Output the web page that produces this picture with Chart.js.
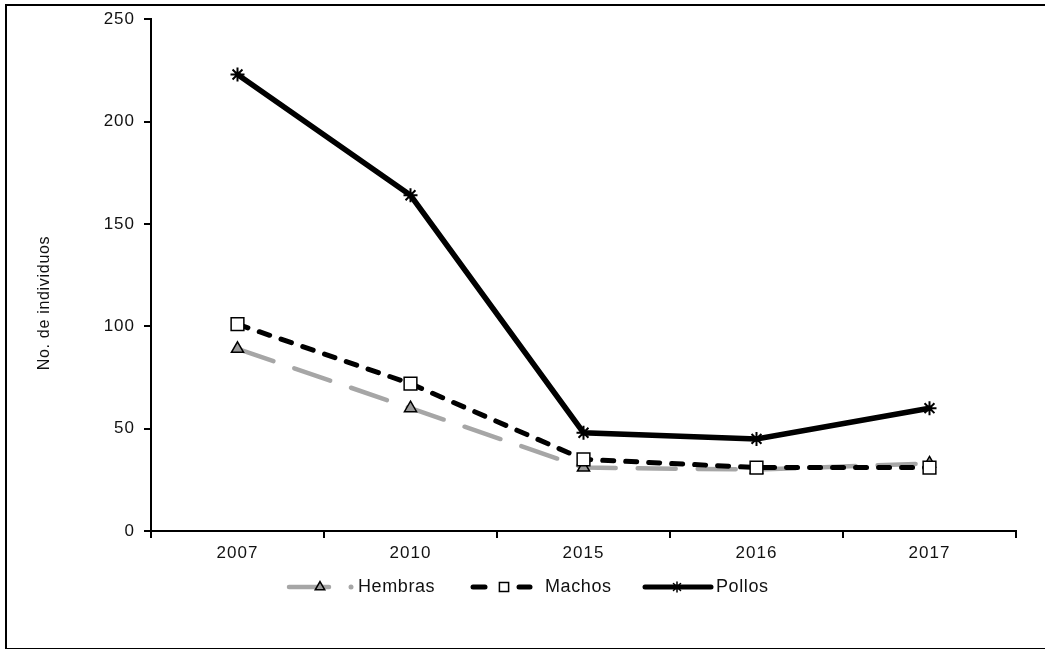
<!DOCTYPE html>
<html>
<head>
<meta charset="utf-8">
<script src="https://cdn.jsdelivr.net/npm/chart.js@4.4.1/dist/chart.umd.min.js"></script>
<style>
  html, body { margin: 0; padding: 0; background: #fff; }
  #wrap { position: relative; width: 1045px; height: 649px; overflow: hidden; }
  #frame { position: absolute; left: 5px; top: 4px; width: 1050px; height: 642px;
           border-left: 2px solid #000; border-top: 2px solid #000; border-bottom: 2px solid #000;
           pointer-events: none; }
  canvas { position: absolute; left: 0; top: 0; }
</style>
</head>
<body>
<div id="wrap">
  <canvas id="c" width="1045" height="649"></canvas>
  <div id="frame"></div>
</div>
<script>
const years = ['2007', '2010', '2015', '2016', '2017'];
const hembras = [89, 60, 31, 30, 33];
const machos = [101, 72, 35, 31, 31];
const pollos = [223, 164, 48, 45, 60];
const yTicks = [0, 50, 100, 150, 200, 250];
const seriesNames = ['Hembras', 'Machos', 'Pollos'];
const yTitle = 'No. de individuos';

const FONT = "'Liberation Sans', Arial, sans-serif";
const GRAY = '#a6a6a6';

function setSpacing(chart) { chart.ctx.letterSpacing = '1px'; }

const spacingPlugin = {
  id: 'spacing',
  beforeUpdate: setSpacing,
  beforeLayout: setSpacing,
  beforeDraw: setSpacing,
  beforeDatasetsDraw: setSpacing
};

const extrasPlugin = {
  id: 'extras',
  afterDraw(chart) {
    const ctx = chart.ctx;
    const H = Chart.helpers;
    ctx.save();
    // y-axis title
    ctx.letterSpacing = '0.7px';
    ctx.font = '16px ' + FONT;
    ctx.fillStyle = '#111';
    ctx.translate(45, 303);
    ctx.rotate(-Math.PI / 2);
    ctx.textAlign = 'center';
    ctx.textBaseline = 'middle';
    ctx.fillText(yTitle, 0, 0);
    ctx.restore();

    // legend
    const y = 587;
    ctx.save();
    ctx.lineCap = 'round';
    ctx.lineWidth = 4.5;
    // Hembras
    ctx.strokeStyle = GRAY;
    ctx.beginPath(); ctx.moveTo(289, y); ctx.lineTo(329, y); ctx.stroke();
    ctx.fillStyle = GRAY;
    ctx.beginPath(); ctx.arc(351, y, 2.5, 0, Math.PI * 2); ctx.fill();
    ctx.lineWidth = 1.5; ctx.strokeStyle = '#000'; ctx.fillStyle = '#999';
    H.drawPoint(ctx, { pointStyle: 'triangle', radius: 5.5, borderWidth: 1.5, rotation: 0 }, 320, y);
    // Machos
    ctx.lineWidth = 5; ctx.strokeStyle = '#000';
    ctx.beginPath(); ctx.moveTo(473, y); ctx.lineTo(485, y); ctx.stroke();
    ctx.beginPath(); ctx.moveTo(519, y); ctx.lineTo(530, y); ctx.stroke();
    ctx.lineWidth = 1.5; ctx.fillStyle = '#fff';
    H.drawPoint(ctx, { pointStyle: 'rect', radius: 6.5, borderWidth: 1.5, rotation: 0 }, 504, y);
    // Pollos
    ctx.lineWidth = 5;
    ctx.beginPath(); ctx.moveTo(645, y); ctx.lineTo(711, y); ctx.stroke();
    ctx.lineWidth = 1.5;
    H.drawPoint(ctx, { pointStyle: 'star', radius: 5, borderWidth: 1.5, rotation: 0 }, 677, y);
    // texts
    ctx.letterSpacing = '0.6px';
    ctx.font = '18px ' + FONT;
    ctx.fillStyle = '#111';
    ctx.textAlign = 'left';
    ctx.textBaseline = 'middle';
    ctx.fillText(seriesNames[0], 358, y);
    ctx.fillText(seriesNames[1], 545, y);
    ctx.fillText(seriesNames[2], 716, y);
    ctx.restore();
  }
};

new Chart(document.getElementById('c'), {
  type: 'line',
  data: {
    labels: years,
    datasets: [
      {
        label: seriesNames[0], data: hembras, order: 3,
        borderColor: GRAY, borderWidth: 4.5, borderDash: [38, 22], borderCapStyle: 'round',
        pointStyle: 'triangle', pointRadius: 7, pointBorderWidth: 1.5,
        pointBorderColor: '#000', pointBackgroundColor: '#999', tension: 0
      },
      {
        label: seriesNames[1], data: machos, order: 2,
        borderColor: '#000', borderWidth: 5, borderDash: [11, 12], borderCapStyle: 'round',
        pointStyle: 'rect', pointRadius: 9, pointBorderWidth: 1.5,
        pointBorderColor: '#000', pointBackgroundColor: '#fff', tension: 0
      },
      {
        label: seriesNames[2], data: pollos, order: 1,
        borderColor: '#000', borderWidth: 5.5, borderCapStyle: 'round',
        pointStyle: 'star', pointRadius: 7, pointBorderWidth: 2,
        pointBorderColor: '#000', pointBackgroundColor: '#000', tension: 0
      }
    ]
  },
  options: {
    responsive: false,
    animation: false,
    devicePixelRatio: 1,
    layout: { padding: { left: 0, top: 16, right: 29, bottom: 68 } },
    plugins: { legend: { display: false }, tooltip: { enabled: false } },
    scales: {
      x: {
        offset: true,
        grid: { offset: true, drawOnChartArea: false, drawTicks: true, tickLength: 7, color: '#000', lineWidth: 2 },
        border: { color: '#000', width: 2 },
        ticks: { color: '#111', font: { family: FONT, size: 17 }, padding: 5, maxRotation: 0 },
        afterFit(s) { s.height = 50; }
      },
      y: {
        min: 0, max: 250,
        afterBuildTicks(s) { s.ticks = yTicks.map(v => ({ value: v })); },
        grid: { drawOnChartArea: false, drawTicks: true, tickLength: 7, color: '#000', lineWidth: 2 },
        border: { color: '#000', width: 2 },
        ticks: { color: '#111', font: { family: FONT, size: 17 }, padding: 9 },
        afterFit(s) { s.width = 151; }
      }
    }
  },
  plugins: [spacingPlugin, extrasPlugin]
});
</script>
</body>
</html>
